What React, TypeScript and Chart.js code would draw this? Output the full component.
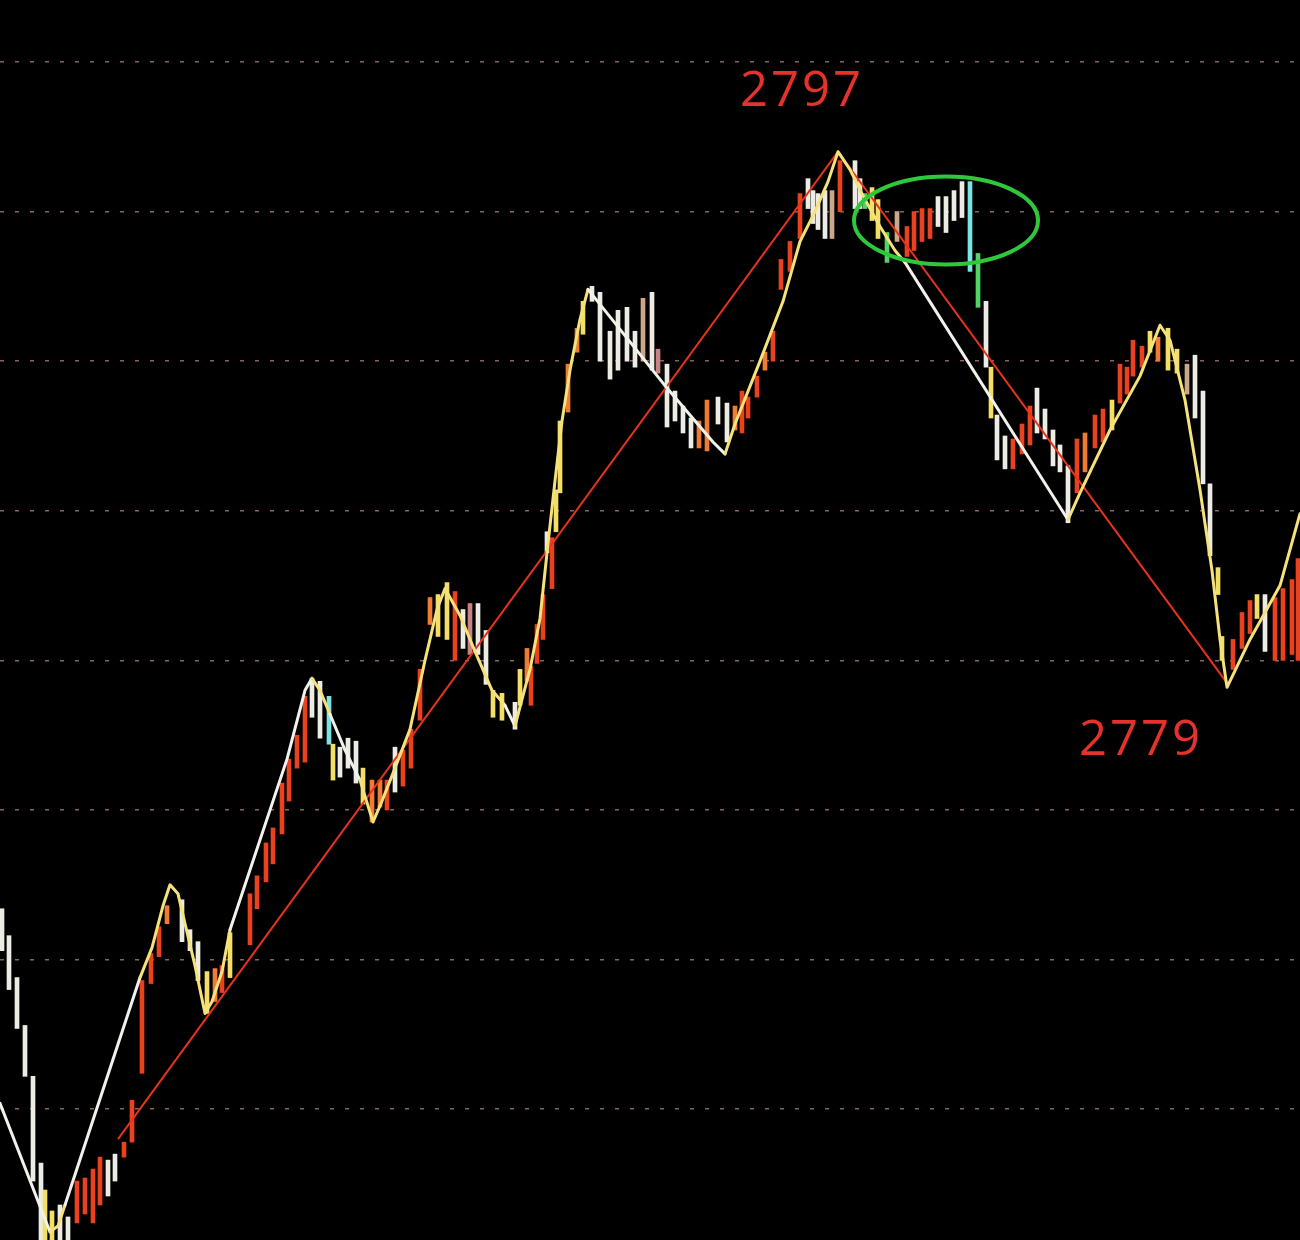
import React, { useEffect, useRef } from "react";
import { Chart, registerables } from "chart.js";

Chart.register(...registerables);

// ---- price grid ----
const priceTicks = [2765, 2770, 2775, 2780, 2785, 2790, 2795, 2800];
const priceMin = 2760.63;
const priceMax = 2802.07;
const timeMin = 0;
const timeMax = 260;

// ---- high/low bars ----
const barTime = [
  0.4, 1.8, 3.4, 5, 6.6, 8.2, 9, 10.4, 12, 13.6,
  15.4, 17, 18.6, 20, 21.6, 23, 24.8, 26.4, 28.4, 30.2,
  31.8, 33.4, 36.4, 38, 39.6, 41.4, 43, 44.4, 46, 50,
  51.4, 53.2, 54.6, 56.4, 57.8, 59.4, 61, 62.4, 64, 65.8,
  66.6, 68, 69.6, 71.2, 72.6, 74.4, 76, 77.4, 79, 80.6,
  82.2, 84, 86, 87.6, 89.4, 91, 92.6, 94, 95.6, 97.2,
  98.6, 100.4, 103, 104, 105.4, 106.2, 107.4, 108.6, 109.4, 110.4,
  111.2, 112, 113.6, 115.4, 116.6, 118.4, 120, 122, 123.6, 125.4,
  127, 128.6, 130.4, 131.6, 133.4, 135, 136.6, 138.2, 139.8, 141.4,
  143.6, 145.4, 147, 148.4, 149.6, 151.4, 153, 154.6, 156.2, 158,
  160, 161.6, 162.6, 163.6, 165, 166.4, 168, 171, 172, 173,
  174.4, 175.6, 177.4, 179.4, 181.4, 182.8, 184.4, 186, 187.6, 189.2,
  190.8, 192.4, 194, 195.6, 197.2, 198.2, 199.4, 201, 202.6, 204.4,
  206, 207.4, 209, 210.6, 212, 213.6, 215.4, 217, 219, 220.6,
  222.4, 224, 225.4, 226.6, 228.4, 230, 231.6, 233.6, 235.4, 237.4,
  239, 240.6, 242, 243.6, 244.4, 246.6, 248.4, 250, 251.4, 253,
  255, 256.6, 258.4, 259.6,
];
const barHigh = [
  2771.7, 2770.8, 2769.4, 2767.8, 2766.1, 2763.2, 2762.3, 2761.6, 2761.8, 2761.4,
  2762.6, 2762.7, 2763.0, 2763.4, 2763.3, 2763.5, 2763.9, 2765.3, 2769.3, 2770.2,
  2771.1, 2771.8, 2772.0, 2771.0, 2770.6, 2769.6, 2769.7, 2769.8, 2770.9, 2772.2,
  2772.8, 2773.9, 2774.4, 2775.9, 2776.7, 2777.5, 2778.8, 2779.4, 2779.3, 2778.8,
  2777.2, 2777.1, 2777.4, 2777.3, 2776.4, 2776.0, 2776.0, 2776.0, 2777.1, 2777.0,
  2777.7, 2779.7, 2782.1, 2782.2, 2782.6, 2782.3, 2781.7, 2781.9, 2781.9, 2781.0,
  2779.0, 2778.9, 2778.6, 2779.7, 2780.4, 2779.8, 2781.2, 2782.2, 2784.3, 2784.1,
  2785.7, 2788.0, 2789.9, 2791.1, 2792.0, 2792.5, 2792.3, 2791.0, 2791.7, 2791.8,
  2791.0, 2792.1, 2792.3, 2790.4, 2789.9, 2789.0, 2788.5, 2788.1, 2788.0, 2788.7,
  2788.8, 2788.6, 2788.5, 2789.0, 2788.8, 2789.5, 2790.3, 2791.0, 2793.4, 2794.0,
  2795.6, 2796.1, 2795.7, 2795.6, 2795.7, 2795.7, 2796.7, 2796.7, 2796.1, 2795.6,
  2795.8, 2795.4, 2794.3, 2795.0, 2794.5, 2795.0, 2795.1, 2795.1, 2795.5, 2795.5,
  2795.7, 2796.0, 2796.0, 2793.6, 2792.0, 2789.8, 2788.2, 2787.5, 2787.4, 2787.9,
  2788.5, 2789.1, 2788.4, 2787.7, 2787.2, 2786.5, 2787.4, 2787.6, 2788.2, 2788.4,
  2788.7, 2789.9, 2789.8, 2790.7, 2790.5, 2791.0, 2790.8, 2791.1, 2790.4, 2789.9,
  2790.2, 2789.0, 2785.9, 2783.1, 2780.8, 2780.7, 2781.6, 2782.0, 2782.2, 2782.2,
  2782.1, 2782.4, 2782.7, 2783.4,
];
const barLow = [
  2770.3, 2769.0, 2767.7, 2766.1, 2762.6, 2760.6, 2760.6, 2760.6, 2760.6, 2760.6,
  2761.2, 2761.5, 2761.2, 2761.8, 2762.1, 2762.6, 2763.4, 2763.9, 2766.2, 2769.2,
  2770.1, 2771.2, 2770.6, 2770.3, 2769.3, 2768.2, 2768.6, 2768.9, 2769.4, 2770.5,
  2771.7, 2772.6, 2773.2, 2774.2, 2775.3, 2776.4, 2776.6, 2778.1, 2777.4, 2777.2,
  2776.0, 2776.1, 2776.4, 2775.9, 2775.2, 2774.6, 2775.1, 2775.0, 2775.6, 2775.8,
  2776.4, 2778.0, 2781.2, 2780.8, 2780.7, 2780.0, 2780.4, 2780.2, 2780.2, 2779.2,
  2778.1, 2778.0, 2777.7, 2778.5, 2779.3, 2778.5, 2779.9, 2780.7, 2783.6, 2782.4,
  2784.3, 2785.6, 2788.3, 2790.3, 2790.9, 2792.0, 2790.0, 2789.4, 2789.7, 2790.0,
  2789.8, 2790.0, 2789.7, 2789.6, 2787.8, 2788.0, 2787.6, 2787.1, 2787.1, 2787.0,
  2787.9, 2787.3, 2787.7, 2787.6, 2788.1, 2788.8, 2789.7, 2790.0, 2792.4, 2793.0,
  2794.1, 2795.1, 2794.6, 2794.4, 2794.1, 2794.1, 2795.0, 2795.1, 2795.1, 2795.1,
  2794.7, 2794.1, 2793.3, 2794.0, 2793.5, 2793.7, 2794.0, 2794.1, 2794.5, 2794.3,
  2794.7, 2794.8, 2793.0, 2791.8, 2789.8, 2788.1, 2786.7, 2786.4, 2786.4, 2786.9,
  2787.2, 2787.6, 2787.4, 2786.5, 2786.3, 2784.6, 2785.6, 2786.3, 2787.1, 2787.3,
  2787.7, 2788.6, 2788.9, 2789.5, 2789.8, 2790.3, 2790.0, 2789.7, 2789.6, 2788.9,
  2788.1, 2785.9, 2783.5, 2782.2, 2780.0, 2779.7, 2780.4, 2780.9, 2781.4, 2780.3,
  2780.0, 2780.0, 2780.2, 2780.0,
];
const barTone = [
  "W", "W", "W", "W", "W", "W", "Y", "Y", "W", "W",
  "R", "R", "R", "R", "W", "W", "R", "R", "R", "R",
  "R", "O", "W", "W", "W", "Y", "O", "R", "Y", "R",
  "R", "R", "R", "R", "R", "R", "R", "W", "W", "C",
  "Y", "W", "W", "W", "Y", "O", "O", "R", "W", "R",
  "R", "R", "O", "Y", "Y", "R", "W", "P", "W", "W",
  "Y", "Y", "W", "Y", "O", "R", "R", "R", "W", "R",
  "Y", "Y", "O", "O", "Y", "W", "W", "W", "W", "W",
  "W", "T", "W", "P", "W", "W", "W", "W", "O", "O",
  "W", "W", "O", "R", "R", "R", "O", "R", "R", "R",
  "R", "W", "W", "W", "W", "T", "R", "W", "W", "G",
  "Y", "Y", "G", "T", "R", "R", "R", "R", "W", "W",
  "W", "W", "C", "G", "W", "Y", "W", "W", "R", "R",
  "R", "W", "W", "W", "W", "W", "R", "O", "R", "R",
  "Y", "R", "R", "R", "R", "Y", "O", "Y", "Y", "T",
  "W", "W", "W", "Y", "Y", "R", "R", "R", "Y", "W",
  "R", "R", "R", "R",
];

// ---- zig-zag price line ----
const lineTime = [
  0, 10, 11.6, 13, 28, 30.4, 32.6, 34, 35.6, 37,
  39, 41, 42.4, 44.4, 46, 57.4, 61, 62.4, 64, 66,
  69, 72, 74.6, 76.4, 79, 82, 85, 87.4, 89, 92,
  95, 98.4, 101, 103, 104.4, 106, 108, 109.6, 111, 112.4,
  114, 116, 117.6, 120, 133.4, 142.6, 145, 147, 152, 156.6,
  160, 163, 165.6, 167.6, 170, 173, 176, 179, 181, 213.6,
  216, 222, 228, 232, 234, 237, 240, 242.4, 244, 245.4,
  250, 256, 260,
];
const lineValue = [
  2765.2, 2760.9, 2761.1, 2761.8, 2769.4, 2770.4, 2771.8, 2772.5, 2772.2, 2771.2,
  2769.8, 2768.2, 2768.6, 2769.6, 2771.0, 2776.7, 2779.0, 2779.4, 2779.0, 2778.2,
  2777.0, 2776.0, 2774.6, 2775.3, 2776.4, 2777.7, 2780.0, 2781.7, 2782.4, 2781.5,
  2780.3, 2779.0, 2778.5, 2777.8, 2778.7, 2779.7, 2781.4, 2783.9, 2786.0, 2788.0,
  2789.7, 2791.4, 2792.4, 2791.9, 2789.1, 2787.3, 2786.9, 2787.9, 2790.0, 2792.0,
  2794.0, 2795.0, 2796.0, 2797.0, 2796.4, 2795.4, 2794.5, 2793.7, 2793.3, 2784.7,
  2785.6, 2787.7, 2789.5, 2791.2, 2790.7, 2788.7, 2785.7, 2783.0, 2780.7, 2779.1,
  2780.7, 2782.5, 2784.9,
];
const lineTone = (
  "W" + "YY" + "W" + "YYYYYYYYYY" + "WWW" + "YY" + "WW" + "YYYYYYYYYYY" +
  "W" + "YYYYYYYYY" + "WWWW" + "YYYYYYYYYYYY" + "W" + "YYYYYYYYYYYYYY"
).split("");

// ---- red trend line ----
const trendTime = [23.6, 167.6, 245.6];
const trendValue = [2764.0, 2797.0, 2779.2];

// ---- annotations ----
const labelTexts = ["2797", "2779"];
const labelTime = [160.4, 228.2];
const labelValue = [2799.0, 2777.3];
const ringCenter = { time: 189.2, value: 2794.7 };
const ringRadius = { time: 18.4, value: 1.47 };

const TONES: Record<string, string> = {
  W: "#ecece4",
  R: "#ea421e",
  O: "#f07c34",
  Y: "#f3de66",
  C: "#7ae4e4",
  G: "#52d464",
  T: "#cca888",
  P: "#c88484",
};
const LINE_TONES: Record<string, string> = {
  W: "#f2f2ec",
  Y: "#f6e27a",
};

const overlayPlugin = {
  id: "overlay",
  afterDatasetsDraw(chart: any) {
    const { ctx, scales } = chart;
    const xs = scales.x;
    const ys = scales.y;
    ctx.save();
    // green ring
    const cx = xs.getPixelForValue(ringCenter.time);
    const cy = ys.getPixelForValue(ringCenter.value);
    const rx = Math.abs(xs.getPixelForValue(ringCenter.time + ringRadius.time) - cx);
    const ry = Math.abs(ys.getPixelForValue(ringCenter.value + ringRadius.value) - cy);
    ctx.beginPath();
    ctx.ellipse(cx, cy, rx, ry, 0, 0, Math.PI * 2);
    ctx.strokeStyle = "#2ec83a";
    ctx.lineWidth = 4;
    ctx.stroke();
    // labels
    ctx.fillStyle = "#e5322a";
    ctx.font = '49px "Open Sans", "Noto Sans", sans-serif';
    (ctx as any).letterSpacing = "3px";
    ctx.textAlign = "center";
    ctx.textBaseline = "middle";
    labelTexts.forEach((t, i) => {
      ctx.fillText(t, xs.getPixelForValue(labelTime[i]), ys.getPixelForValue(labelValue[i]));
    });
    ctx.restore();
  },
};

export default function App() {
  const ref = useRef<HTMLCanvasElement>(null);
  useEffect(() => {
    document.body.style.margin = "0";
    document.body.style.background = "#000";
    const chart = new Chart(ref.current as HTMLCanvasElement, {
      type: "bar",
      data: {
        datasets: [
          {
            type: "line",
            data: lineTime.map((t, i) => ({ x: t, y: lineValue[i] })),
            borderColor: LINE_TONES.W,
            borderWidth: 3,
            borderJoinStyle: "round",
            borderCapStyle: "round",
            pointRadius: 0,
            tension: 0,
            order: 1,
            segment: {
              borderColor: (c: any) => LINE_TONES[lineTone[c.p0DataIndex]],
            },
          } as any,
          {
            type: "line",
            data: trendTime.map((t, i) => ({ x: t, y: trendValue[i] })),
            borderColor: "#e8321e",
            borderWidth: 2,
            pointRadius: 0,
            tension: 0,
            order: 2,
          } as any,
          {
            type: "bar",
            data: barTime.map((t, i) => ({ x: t, y: [barLow[i], barHigh[i]] })),
            backgroundColor: barTone.map((c) => TONES[c]),
            borderWidth: 0,
            barThickness: 4,
            order: 3,
          } as any,
        ],
      },
      options: {
        responsive: false,
        animation: false,
        devicePixelRatio: 1,
        layout: { padding: 0 },
        plugins: { legend: { display: false }, tooltip: { enabled: false } },
        scales: {
          x: {
            type: "linear",
            min: timeMin,
            max: timeMax,
            offset: false,
            display: false,
            grid: { display: false },
          },
          y: {
            type: "linear",
            min: priceMin,
            max: priceMax,
            afterBuildTicks: (s: any) => {
              s.ticks = priceTicks.map((v) => ({ value: v }));
            },
            ticks: { display: false },
            border: { display: false, dash: [4, 11] },
            grid: { color: "#8a645a", lineWidth: 1.5, drawTicks: false },
          },
        },
      } as any,
      plugins: [overlayPlugin],
    });
    return () => chart.destroy();
  }, []);
  return (
    <div style={{ width: 1300, height: 1240, background: "#000" }}>
      <canvas ref={ref} width={1300} height={1240} style={{ display: "block" }} />
    </div>
  );
}
